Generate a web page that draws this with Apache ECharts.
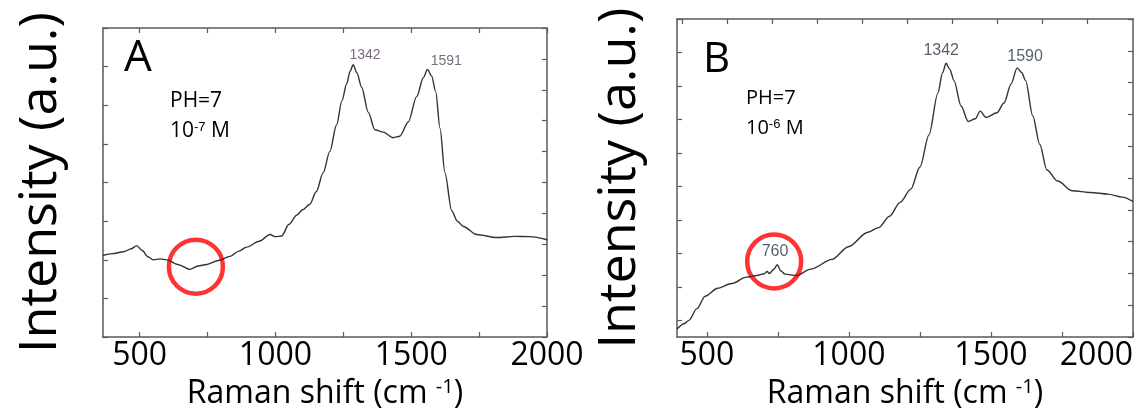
<!DOCTYPE html>
<html>
<head>
<meta charset="utf-8">
<script src="https://cdn.jsdelivr.net/npm/echarts@6/dist/echarts.min.js"></script>
<style>html,body{margin:0;background:#fff}#main{width:1142px;height:415px}</style>
</head>
<body>
<div id="main"></div>
<script>
// spectrum A: pH 7, 1e-7 M  [Raman shift, intensity]
var spectrumA = [[365,26.4],[400,27.0],[440,27.6],[470,28.6],[489,29.6],[510,28.0],[530,26.0],[550,25.0],[575,25.3],[600,25.0],[640,23.5],[685,21.9],[715,23.0],[747,23.5],[790,24.8],[833,26.1],[865,27.8],[894,29.1],[940,31.0],[980,33.2],[1000,32.5],[1023,32.7],[1050,36.5],[1078,39.4],[1100,41.2],[1127,43.0],[1150,47.0],[1176,53.2],[1200,60.0],[1225,68.6],[1245,76.5],[1262,81.9],[1275,86.0],[1286,88.1],[1300,85.5],[1317,80.9],[1342,72.7],[1366,67.1],[1397,66.3],[1434,64.5],[1458,65.0],[1489,69.6],[1520,77.8],[1545,84.0],[1560,86.6],[1575,84.5],[1590,79.5],[1606,67.6],[1624,53.2],[1649,40.9],[1670,37.5],[1692,35.8],[1741,33.2],[1815,32.2],[1880,32.6],[1937,32.5],[2000,31.5]];
// spectrum B: pH 7, 1e-6 M
var spectrumB = [[395,2.4],[420,4.0],[437,5.0],[465,8.5],[494,12.2],[538,14.6],[588,16.0],[639,17.9],[676,18.4],[702,18.9],[712,19.6],[720,19.0],[735,20.2],[748,21.6],[760,19.8],[775,18.8],[815,18.4],[866,20.3],[941,23.2],[998,27.0],[1067,31.3],[1105,32.7],[1143,36.1],[1181,40.3],[1218,44.2],[1250,50.8],[1282,60.4],[1313,72.8],[1330,79.0],[1342,81.8],[1355,80.0],[1370,76.6],[1395,69.0],[1420,64.4],[1445,65.2],[1462,67.5],[1483,65.6],[1521,67.0],[1546,69.9],[1571,75.6],[1592,80.4],[1608,79.0],[1622,76.6],[1647,66.1],[1672,57.5],[1697,49.9],[1735,46.6],[1786,43.7],[1849,43.2],[1912,42.7],[1962,41.8],[2000,40.5]];

var peakLabelsA = [['1342', 1330, 91.2], ['1591', 1629, 89.4]];
var peakLabelsB = [['1342', 1325, 85.7], ['1590', 1620, 83.7], ['760', 740, 25.6]];
var circleA = [[707, 22.8]];
var circleB = [[737, 22.6]];

var xTicks = [500, 750, 1000, 1250, 1500, 1750, 2000];
var xLabels = [500, 1000, 1500, 2000];
var topTicksB = [413, 571, 729, 888, 1046, 1205, 1363, 1522, 1680, 1839];
var leftTicksB = [5, 15, 25, 35, 45, 55, 65, 75, 85, 95];

var myChart = echarts.init(document.getElementById('main'));

var lineCol = '#5a5a5a';
var font = 'Open Sans';

function frameAxis(extra) {
    var a = {
        type: 'value',
        axisLine: { show: true, onZero: false, lineStyle: { color: lineCol, width: 1.5 } },
        axisTick: { show: true, inside: true, length: 5, lineStyle: { color: lineCol, width: 1.2 } },
        axisLabel: { show: false },
        splitLine: { show: false }
    };
    for (var k in extra) a[k] = extra[k];
    return a;
}

function bottomAxis(grid, min, alignMax) {
    return frameAxis({
        gridIndex: grid, position: 'bottom', min: min, max: 2000,
        axisTick: { show: true, inside: true, length: 5, customValues: xTicks, lineStyle: { color: lineCol, width: 1.2 } },
        axisLabel: { show: true, customValues: xLabels, margin: 3, color: '#000', fontFamily: font, fontSize: 32,
                     alignMaxLabel: alignMax, formatter: function (v) { return String(v); } },
        name: '{a|Raman shift (cm }{s|-1}{a|)}',
        nameLocation: 'middle', nameGap: 26,
        nameTextStyle: {
            rich: {
                a: { fontFamily: font, fontSize: 32, color: '#000', lineHeight: 34 },
                s: { fontFamily: font, fontSize: 20, color: '#000', verticalAlign: 'top', lineHeight: 34, padding: [0, 0, 12, 0] }
            }
        }
    });
}

function peakSeries(xi, yi, list, size, col) {
    return {
        type: 'scatter', xAxisIndex: xi, yAxisIndex: yi, silent: true,
        symbolSize: 1, itemStyle: { color: 'rgba(0,0,0,0)' },
        label: { show: true, position: 'inside', formatter: function (p) { return p.data[0]; },
                 fontFamily: 'Liberation Sans', fontSize: size, color: col },
        encode: { x: 1, y: 2 },
        data: list
    };
}

function circleSeries(xi, yi, pt) {
    return {
        type: 'scatter', xAxisIndex: xi, yAxisIndex: yi, silent: true,
        symbol: 'circle', symbolSize: 54,
        itemStyle: { color: 'rgba(0,0,0,0)', borderColor: '#ff0000', borderWidth: 4.5 },
        data: pt
    };
}

var yName = 'Intensity (a.u.)';
var yNameStyle = { fontFamily: font, fontSize: 52, color: '#000' };

var option = {
    backgroundColor: '#fff',
    animation: false,
    grid: [
        { left: 103, right: 595, top: 28, bottom: 62 },
        { left: 677, right: 9, top: 19, bottom: 64 }
    ],
    xAxis: [
        bottomAxis(0, 365, 'center'),
        frameAxis({ gridIndex: 0, position: 'top', min: 365, max: 2000,
            axisTick: { show: true, inside: true, length: 5, customValues: xTicks, lineStyle: { color: lineCol, width: 1.2 } } }),
        bottomAxis(1, 395, 'right'),
        frameAxis({ gridIndex: 1, position: 'top', min: 395, max: 2000,
            axisTick: { show: true, inside: true, length: 5, customValues: topTicksB, lineStyle: { color: lineCol, width: 1.2 } } })
    ],
    yAxis: [
        frameAxis({ gridIndex: 0, position: 'left', min: 0, max: 100, interval: 12.5,
            name: yName, nameLocation: 'middle', nameGap: 36, nameTextStyle: yNameStyle }),
        frameAxis({ gridIndex: 0, position: 'right', min: 0, max: 100, interval: 10 }),
        frameAxis({ gridIndex: 1, position: 'left', min: 0, max: 95,
            axisTick: { show: true, inside: true, length: 5, customValues: leftTicksB, lineStyle: { color: lineCol, width: 1.2 } },
            name: yName, nameLocation: 'middle', nameGap: 31, nameTextStyle: yNameStyle }),
        frameAxis({ gridIndex: 1, position: 'right', min: 0, max: 95, interval: 9.5 })
    ],
    graphic: [
        { type: 'text', left: 124, top: 36, style: { text: 'A', fontFamily: font, fontSize: 44, fill: '#000' } },
        { type: 'text', left: 170, top: 91, style: { text: 'PH=7', fontFamily: font, fontSize: 21, fill: '#000' } },
        { type: 'text', left: 170, top: 121, style: { text: '10{s|-7} M', fontFamily: font, fontSize: 21, fill: '#000',
            rich: { s: { fontSize: 13, verticalAlign: 'top', padding: [0, 0, 8, 0] } } } },
        { type: 'text', left: 703, top: 39, style: { text: 'B', fontFamily: font, fontSize: 42, fill: '#000' } },
        { type: 'text', left: 746, top: 88, style: { text: 'PH=7', fontFamily: font, fontSize: 20, fill: '#000' } },
        { type: 'text', left: 746, top: 118, style: { text: '10{s|-6} M', fontFamily: font, fontSize: 20, fill: '#000',
            rich: { s: { fontSize: 13, verticalAlign: 'top', padding: [0, 0, 8, 0] } } } }
    ],
    series: [
        { type: 'line', xAxisIndex: 0, yAxisIndex: 0, data: spectrumA, showSymbol: false, silent: true,
          smooth: 0.3, smoothMonotone: 'x', lineStyle: { color: '#333', width: 1.4 } },
        { type: 'line', xAxisIndex: 2, yAxisIndex: 2, data: spectrumB, showSymbol: false, silent: true,
          smooth: 0.3, smoothMonotone: 'x', lineStyle: { color: '#333', width: 1.4 } },
        peakSeries(0, 0, peakLabelsA, 14, '#5a4560'),
        peakSeries(2, 2, peakLabelsB, 16, '#2c3a48'),
        circleSeries(0, 0, circleA),
        circleSeries(2, 2, circleB)
    ]
};

myChart.setOption(option);
</script>
</body>
</html>
